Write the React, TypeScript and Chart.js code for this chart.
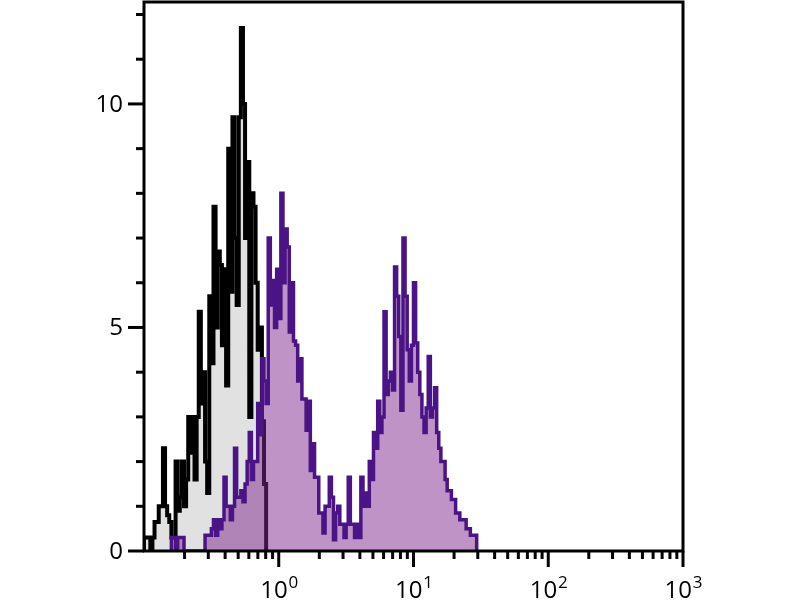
import React, { useEffect, useRef } from 'react';
import { Chart, registerables } from 'chart.js';

Chart.register(...registerables);

// Channel grid: 64 channels per decade (256 channels over 4 decades), starting at 10^-1
const CHANNELS_PER_DECADE = 64;
const X_MIN = 0.1;
const X_MAX = 1000;
const Y_MIN = 0;
const Y_MAX = 12.28;

// Control histogram (black outline, grey fill)
const controlStart = 0;
const controlCounts = [
  0.3, 0.3, 0.3, 0, 0.3, 0.65, 0.65, 1.0, 1.0, 2.3,
  1.0, 0.8, 0.65, 0.3, 0.3, 2.0, 0.9, 1.2, 2.0, 1.0,
  1.6, 3.0, 2.2, 3.0, 1.6, 3.0, 5.35, 3.3, 4.0, 2.0,
  1.3, 5.7, 4.2, 7.7, 5.0, 6.7, 6.4, 4.6, 6.3, 3.7,
  9.0, 5.8, 9.7, 7.0, 5.5, 9.7, 11.7, 10.0, 7.0, 8.7,
  3.0, 8.0, 7.7, 6.0, 4.5, 5.0, 2.9, 1.5,
];

// Stained histogram (purple outline, light purple fill)
const stainedStart = 13;
const stainedCounts = [
  0.3, 0.3, 0, 0.3, 0.3, 0.3, 0, 0, 0, 0,
  0, 0, 0, 0, 0, 0, 0.35, 0.35, 0.35, 0.5,
  0.7, 0.35, 0.7, 0.5, 0.7, 1.65, 1.0, 1.0, 0.7, 1.0,
  2.3, 1.2, 1.2, 1.35, 1.1, 1.5, 2.0, 2.65, 1.6, 2.0,
  2.0, 3.3, 2.6, 4.3, 3.8, 3.3, 7.0, 5.5, 6.05, 5.0,
  6.3, 5.2, 8.0, 6.0, 7.2, 6.8, 4.9, 6.0, 4.7, 4.6,
  3.8, 4.3, 3.4, 3.4, 2.7, 3.35, 1.8, 2.4, 1.65, 1.65,
  0.85, 0.85, 0.4, 1.0, 1.0, 1.65, 1.2, 0.25, 0.85, 1.0,
  0.6, 0.6, 0.3, 0.6, 1.65, 0.6, 0.6, 0.3, 0.6, 0.3,
  1.65, 1.0, 1.3, 1.0, 2.0, 1.6, 2.65, 2.3, 3.35, 2.65,
  3.0, 5.35, 3.5, 3.8, 4.0, 3.6, 6.35, 5.7, 4.8, 3.15,
  7.0, 5.7, 4.5, 3.8, 4.6, 6.0, 4.65, 4.0, 3.5, 3.0,
  2.65, 3.2, 4.35, 3.0, 3.2, 3.65, 2.65, 2.3, 2.0, 2.0,
  1.6, 1.35, 1.35, 1.15, 1.15, 0.85, 0.85, 0.7, 0.7, 0.7,
  0.5, 0.5, 0.35, 0.35, 0.35,
];

// Axis ticks
const xMajorTicks = [1, 10, 100, 1000];
const xMajorExponents = ['0', '1', '2', '3'];
const xMinorMultipliers = [2, 3, 4, 5, 6, 7, 8, 9];
const xMinorDecades = [0.1, 1, 10, 100];
const yMajorTicks = [0, 5, 10];
const yMajorLabels = ['0', '5', '10'];
const yMinorTicks = [1, 2, 3, 4, 6, 7, 8, 9, 11, 12];

const FONT_FAMILY = '"Open Sans", "Noto Sans", sans-serif';

function channelToValue(ch: number): number {
  return X_MIN * Math.pow(10, ch / CHANNELS_PER_DECADE);
}

function buildSteps(start: number, counts: number[]) {
  const pts: { x: number; y: number }[] = [];
  pts.push({ x: channelToValue(start), y: 0 });
  counts.forEach((c, i) => {
    pts.push({ x: channelToValue(start + i), y: c });
  });
  pts.push({ x: channelToValue(start + counts.length), y: 0 });
  return pts;
}

const axesPlugin = {
  id: 'flowAxes',
  afterDraw(chart: any) {
    const { ctx, chartArea } = chart;
    const xs = chart.scales.x;
    const ys = chart.scales.y;
    ctx.save();
    ctx.strokeStyle = '#000';
    ctx.fillStyle = '#000';
    ctx.lineCap = 'butt';

    // frame
    ctx.lineWidth = 3;
    ctx.strokeRect(chartArea.left, chartArea.top, chartArea.right - chartArea.left, chartArea.bottom - chartArea.top);

    // x ticks
    xMinorDecades.forEach((d) => {
      xMinorMultipliers.forEach((m) => {
        const px = xs.getPixelForValue(d * m);
        ctx.beginPath();
        ctx.moveTo(px, chartArea.bottom);
        ctx.lineTo(px, chartArea.bottom + 8);
        ctx.stroke();
      });
    });
    xMajorTicks.forEach((v) => {
      const px = xs.getPixelForValue(v);
      ctx.beginPath();
      ctx.moveTo(px, chartArea.bottom);
      ctx.lineTo(px, chartArea.bottom + 16);
      ctx.stroke();
    });

    // y ticks
    yMinorTicks.forEach((v) => {
      const py = ys.getPixelForValue(v);
      ctx.beginPath();
      ctx.moveTo(chartArea.left, py);
      ctx.lineTo(chartArea.left - 8, py);
      ctx.stroke();
    });
    yMajorTicks.forEach((v) => {
      const py = ys.getPixelForValue(v);
      ctx.beginPath();
      ctx.moveTo(chartArea.left, py);
      ctx.lineTo(chartArea.left - 16, py);
      ctx.stroke();
    });

    // y labels
    ctx.font = `24px ${FONT_FAMILY}`;
    ctx.textAlign = 'right';
    ctx.textBaseline = 'middle';
    yMajorTicks.forEach((v, i) => {
      const py = ys.getPixelForValue(v);
      ctx.fillText(yMajorLabels[i], chartArea.left - 21, py + 1);
    });

    // x labels: 10 with superscript exponent
    ctx.textBaseline = 'alphabetic';
    ctx.textAlign = 'left';
    xMajorTicks.forEach((v, i) => {
      const px = xs.getPixelForValue(v);
      ctx.font = `24px ${FONT_FAMILY}`;
      const wBase = ctx.measureText('10').width;
      ctx.font = `17px ${FONT_FAMILY}`;
      const wSup = ctx.measureText(xMajorExponents[i]).width;
      const startX = px - (wBase + wSup) / 2;
      const baseY = chartArea.bottom + 47;
      ctx.font = `24px ${FONT_FAMILY}`;
      ctx.fillText('10', startX, baseY);
      ctx.font = `17px ${FONT_FAMILY}`;
      ctx.fillText(xMajorExponents[i], startX + wBase + 1, baseY - 10);
    });

    ctx.restore();
  },
};

export default function App() {
  const canvasRef = useRef<HTMLCanvasElement | null>(null);

  useEffect(() => {
    if (!canvasRef.current) return;
    const chart = new Chart(canvasRef.current, {
      type: 'line',
      data: {
        datasets: [
          {
            label: 'Stained',
            data: buildSteps(stainedStart, stainedCounts),
            stepped: 'before',
            borderColor: '#4b1486',
            borderWidth: 3.5,
            backgroundColor: 'rgba(128, 40, 140, 0.5)',
            fill: 'origin',
            pointRadius: 0,
            borderJoinStyle: 'miter',
          },
          {
            label: 'Control',
            data: buildSteps(controlStart, controlCounts),
            stepped: 'before',
            borderColor: '#000000',
            borderWidth: 4,
            backgroundColor: '#e1e1e1',
            fill: 'origin',
            pointRadius: 0,
            borderJoinStyle: 'miter',
          },
        ],
      },
      options: {
        animation: false,
        responsive: false,
        maintainAspectRatio: false,
        layout: { padding: { left: 144, right: 117, top: 2, bottom: 49 } },
        plugins: {
          legend: { display: false },
          tooltip: { enabled: false },
        },
        scales: {
          x: {
            type: 'logarithmic',
            min: X_MIN,
            max: X_MAX,
            display: false,
          },
          y: {
            type: 'linear',
            min: Y_MIN,
            max: Y_MAX,
            display: false,
          },
        },
      },
      plugins: [axesPlugin],
    });
    return () => chart.destroy();
  }, []);

  return (
    <div style={{ position: 'fixed', left: 0, top: 0, width: 800, height: 600, background: '#fff' }}>
      <canvas ref={canvasRef} width={800} height={600} style={{ display: 'block' }} />
    </div>
  );
}
